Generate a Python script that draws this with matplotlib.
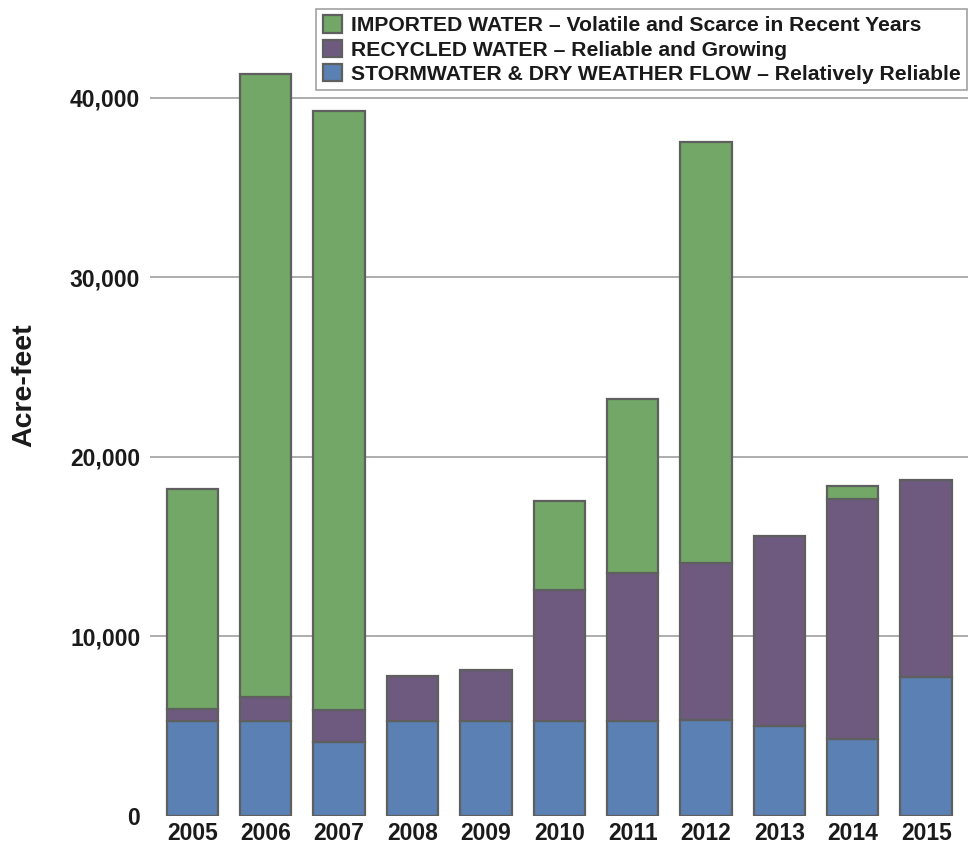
import numpy as np
import matplotlib
matplotlib.use("Agg")
import matplotlib.pyplot as plt
from matplotlib.ticker import FuncFormatter

plt.rcParams['font.family'] = ['Liberation Sans', 'DejaVu Sans']
plt.rcParams['font.weight'] = 'bold'

# Water supply by source, acre-feet
years = ['2005', '2006', '2007', '2008', '2009', '2010', '2011', '2012', '2013', '2014', '2015']
stormwater = [5300, 5300, 4140, 5300, 5300, 5300, 5300, 5340, 5030, 4270, 7740]
recycled = [660, 1340, 1760, 2480, 2850, 7280, 8210, 8730, 10580, 13400, 10990]
imported = [12230, 34660, 33350, 0, 0, 4970, 9720, 23460, 0, 710, 0]

labels = ['STORMWATER & DRY WEATHER FLOW \u2013 Relatively Reliable',
          'RECYCLED WATER \u2013 Reliable and Growing',
          'IMPORTED WATER \u2013 Volatile and Scarce in Recent Years']
colors_ = ['#5B80B3', '#6D5A7E', '#73A767']

fig = plt.figure(figsize=(9.76, 8.44), dpi=100)
ax = fig.add_axes([0.1537, 0.0332, 0.8381, 0.8957])

x = np.arange(len(years))
bottom = np.zeros(len(years))
handles = []
for vals, lab, col in zip([stormwater, recycled, imported], labels, colors_):
    vals = np.array(vals, dtype=float)
    mask = vals > 0
    b = ax.bar(x[mask], vals[mask], 0.70, bottom=bottom[mask], color=col,
               edgecolor='#5f5f5f', linewidth=1.6, label=lab, zorder=3)
    handles.append(b)
    bottom += vals

ax.set_xlim(-0.576, 10.57)
ax.set_ylim(0, 42100)
ax.set_yticks([0, 10000, 20000, 30000, 40000])
ax.yaxis.set_major_formatter(FuncFormatter(lambda v, p: f'{int(v):,}'))
ax.set_xticks(x)
ax.set_xticklabels(years)
ax.tick_params(axis='both', length=0, labelsize=16.5, colors='#1a1a1a')
ax.tick_params(axis='y', pad=7)
ax.tick_params(axis='x', pad=4)
ax.yaxis.grid(True, color='#a0a0a0', linewidth=1.2, zorder=0)
ax.set_axisbelow(True)
for s in ax.spines.values():
    s.set_visible(False)

# hide the gridline at zero
ax.get_ygridlines()[0].set_visible(False)

fig.text(24 / 976, 1 - 385 / 844, 'Acre-feet', rotation=90, ha='center', va='center',
         fontsize=20.5, fontweight='bold', color='#1a1a1a')

leg = fig.legend(handles[::-1], labels[::-1], loc='upper right',
                 bbox_to_anchor=(0.9905, 0.9893), borderaxespad=0,
                 fontsize=15.2, frameon=True, fancybox=False,
                 handlelength=0.9, handleheight=0.9, handletextpad=0.42,
                 labelspacing=0.2, borderpad=0.3)
leg.get_frame().set_edgecolor('#8a8a8a')
leg.get_frame().set_linewidth(1.2)
for t in leg.get_texts():
    t.set_color('#1a1a1a')

fig.savefig('out.png', dpi=100)
